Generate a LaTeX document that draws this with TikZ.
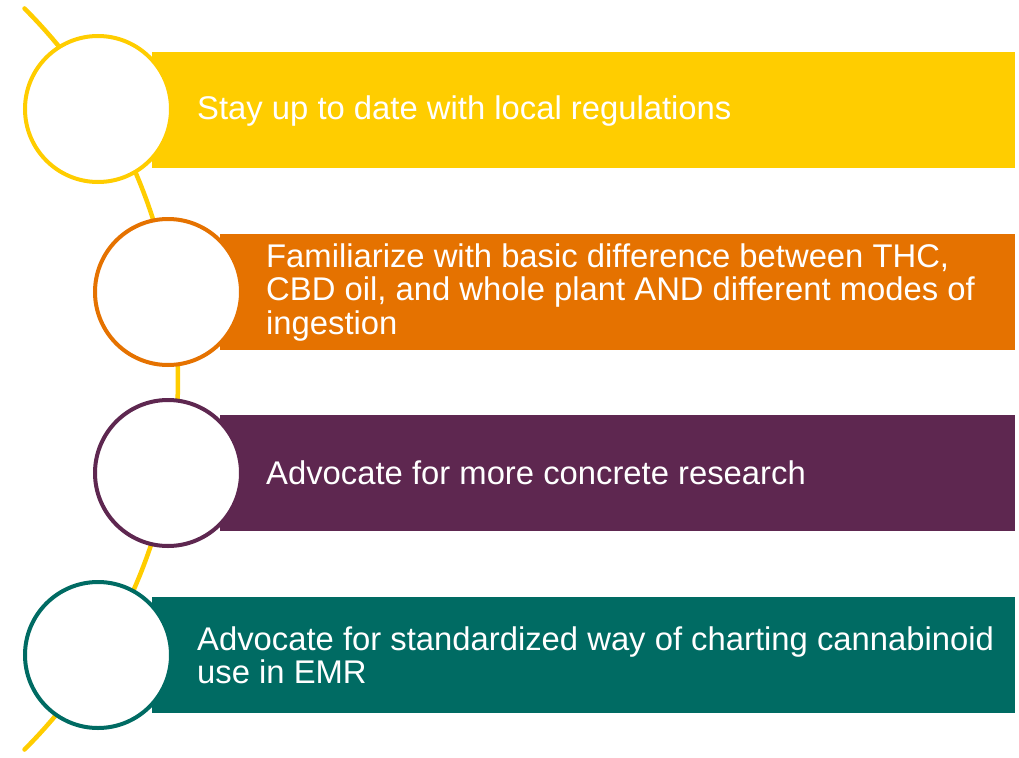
\documentclass[tikz,border=0pt]{standalone}
\usepackage{fontspec}
\setmainfont{Liberation Sans}
\definecolor{cyellow}{HTML}{FFCD00}
\definecolor{corange}{HTML}{E57200}
\definecolor{cpurple}{HTML}{5E2750}
\definecolor{cteal}{HTML}{006B63}
\tikzset{
  bar/.style={fill=#1, draw=none, anchor=north west, inner sep=0pt, minimum height=116pt},
  ring/.style={circle, draw=#1, line width=4pt, fill=white, minimum size=146pt, inner sep=0pt},
  label/.style={anchor=west, align=left, inner sep=0pt, text=white, font=\fontsize{32.8}{33.5}\selectfont},
  arcline/.style={draw=cyellow, line width=4.5pt, line cap=round}
}
\begin{document}
\begin{tikzpicture}[x=1pt,y=-1pt]
\useasboundingbox (0,0) rectangle (1019,757);
% background arc
\draw[arcline] plot[domain=-45:45, samples=80, smooth] ({-346+524*cos(\x)},{379-524*sin(\x)});
% bars
\node[bar=cyellow, minimum width=863pt] (b1) at (152,52) {};
\node[bar=corange, minimum width=795pt] (b2) at (220,234) {};
\node[bar=cpurple, minimum width=795pt] (b3) at (220,415) {};
\node[bar=cteal, minimum width=863pt] (b4) at (152,597) {};
% circles
\node[ring=cyellow] (c1) at (98,109) {};
\node[ring=corange] (c2) at (168,292) {};
\node[ring=cpurple] (c3) at (168,473) {};
\node[ring=cteal] (c4) at (98,655) {};
% labels
\node[label] (t1) at ([xshift=45pt,yshift=-1pt]b1.west) {Stay up to date with local regulations};
\node[label] (t2) at ([xshift=46pt]b2.west) {Familiarize with basic difference between THC,\\CBD oil, and whole plant AND different modes of\\ingestion};
\node[label] (t3) at ([xshift=46pt]b3.west) {Advocate for more concrete research};
\node[label] (t4) at ([xshift=45pt]b4.west) {Advocate for standardized way of charting cannabinoid\\use in EMR};
\end{tikzpicture}
\end{document}
